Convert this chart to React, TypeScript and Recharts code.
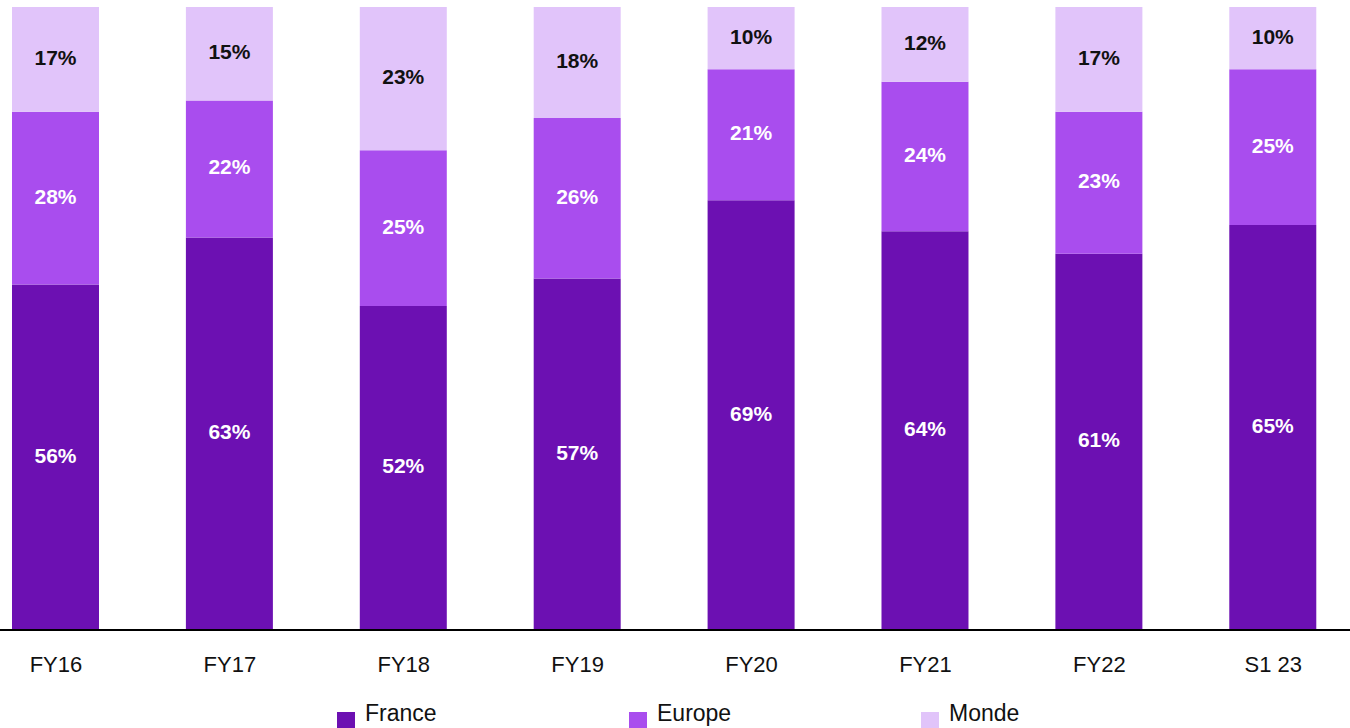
import React from "react";
import { Bar, BarChart, LabelList, XAxis, YAxis } from "recharts";

const categories = ["FY16", "FY17", "FY18", "FY19", "FY20", "FY21", "FY22", "S1 23"];
const france = [56, 63, 52, 57, 69, 64, 61, 65];
const europe = [28, 22, 25, 26, 21, 24, 23, 25];
const monde = [17, 15, 23, 18, 10, 12, 17, 10];

const series = [
  { key: "france", name: "France", color: "#6C10B2", label: "#ffffff" },
  { key: "europe", name: "Europe", color: "#A94DEE", label: "#ffffff" },
  { key: "monde", name: "Monde", color: "#E1C4FA", label: "#111111" },
];

const data = categories.map((cat, i) => ({
  cat,
  france: france[i],
  europe: europe[i],
  monde: monde[i],
}));

// la première barre touche presque le bord gauche : on décale le graphique vers la gauche
const BAND = 173.9;

export default function App() {
  return (
    <div
      style={{
        position: "absolute",
        left: 0,
        top: 0,
        width: 1350,
        height: 728,
        overflow: "hidden",
        background: "#fff",
      }}
    >
      <div style={{ position: "absolute", left: 55.5 - BAND / 2, top: 0 }}>
        <BarChart
          width={BAND * categories.length}
          height={728}
          data={data}
          stackOffset="expand"
          margin={{ top: 7, right: 0, left: 0, bottom: 38 }}
        >
          <XAxis
            dataKey="cat"
            height={60}
            tickLine={false}
            tickMargin={20}
            axisLine={{ stroke: "#000", strokeWidth: 2 }}
            tick={{ fill: "#111", fontSize: 22, fontFamily: "'Liberation Sans', Arial, sans-serif" }}
            interval={0}
          />
          <YAxis hide domain={[0, 1]} />
          {series.map((s) => (
            <Bar
              key={s.key}
              dataKey={s.key}
              name={s.name}
              stackId="a"
              fill={s.color}
              barSize={87}
              isAnimationActive={false}
            >
              <LabelList
                dataKey={s.key}
                position="center"
                formatter={(v: any) => `${v}%`}
                fill={s.label}
                dy={-2}
                style={{
                  fontSize: 21,
                  fontWeight: 700,
                  fontFamily: "'Liberation Sans', Arial, sans-serif",
                }}
              />
            </Bar>
          ))}
        </BarChart>
      </div>
      <div
        style={{
          position: "absolute",
          left: 337,
          top: 700,
          display: "flex",
          fontFamily: "'Liberation Sans Narrow', 'Liberation Sans', Arial, sans-serif",
          fontSize: 23,
          color: "#111",
        }}
      >
        {series.map((s) => (
          <div key={s.key} style={{ width: 292, display: "flex", alignItems: "flex-start" }}>
            <span
              style={{
                display: "inline-block",
                width: 18,
                height: 18,
                background: s.color,
                marginTop: 12,
                marginRight: 10,
              }}
            />
            <span style={{ lineHeight: "26px" }}>{s.name}</span>
          </div>
        ))}
      </div>
    </div>
  );
}
